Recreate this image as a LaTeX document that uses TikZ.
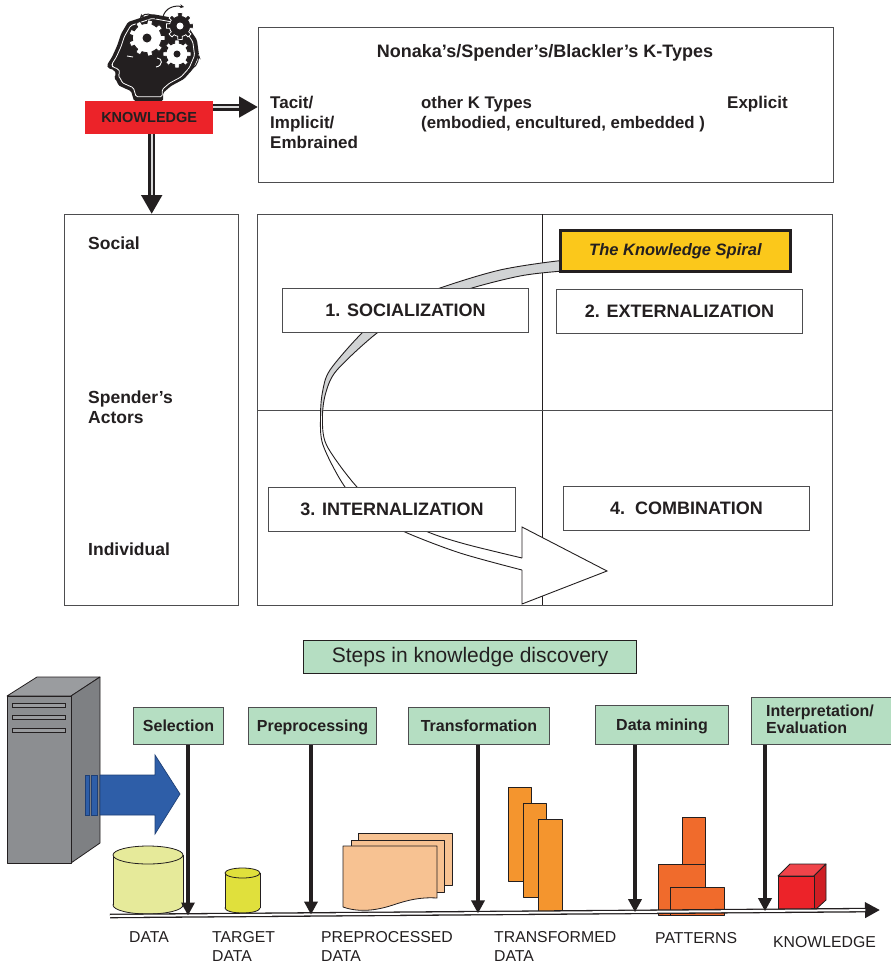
\documentclass[tikz,border=0pt]{standalone}
\usepackage{fontspec}
\setmainfont{Liberation Sans}
\usetikzlibrary{arrows.meta,calc}

\definecolor{ink}{HTML}{231F20}
\definecolor{rule}{HTML}{4D4D4F}
\definecolor{mint}{HTML}{B5DEC2}
\definecolor{kred}{HTML}{EC2329}
\definecolor{kyellow}{HTML}{FBC81B}
\definecolor{peach}{HTML}{F7C292}
\definecolor{amber}{HTML}{F4952E}
\definecolor{tangerine}{HTML}{F06B2C}
\definecolor{paleolive}{HTML}{E6EA9A}
\definecolor{lemon}{HTML}{E0E03C}
\definecolor{steel}{HTML}{2E5EA8}
\definecolor{steeldark}{HTML}{1E3F75}
\definecolor{slate}{HTML}{8C8E91}
\definecolor{slatetop}{HTML}{9A9C9F}
\definecolor{slateside}{HTML}{7E8083}
\definecolor{ribbon}{HTML}{D1D3D4}
\definecolor{cubetop}{HTML}{F0444A}
\definecolor{cubeside}{HTML}{CF1E24}

% profile of the thinking head
\newcommand\kheadpath{(128,22) -- (121,34) -- (117,46) -- (112,57) -- (107,65)
  -- (108,68) -- (114,70) -- (116,74) -- (114,78) -- (117,81) -- (118,85)
  -- (124,88) -- (131,91) -- (134,101) -- (163,101) -- (163,93) -- (171,86)
  -- (184,79) -- (193,69) -- (199,55) -- (197,40) -- (189,28) -- (174,18)
  -- (152,14) -- cycle}
% toothed wheel: #1 teeth, #2 outer radius, #3 root radius
\newcommand\kgear[3]{plot[domain=0:360, samples=181]
  (\x:{ifthenelse(cos(#1*\x)>0.1,#2,#3)}) -- cycle}
% the two edges of the spiral ribbon, split at its leftmost point
\newcommand\ribOuterTop{(590,259.5) (557,261) (500,270) (443,287) (395,306)
  (362,333) (330,370) (322.5,392) (320.5,416)}
\newcommand\ribOuterLow{(320.5,416) (323,445) (345,487) (372,513) (405,532)
  (460,553) (522,570)}
\newcommand\ribInnerTop{(322.5,416) (326,392) (337,370) (377,333) (420,306)
  (472,288) (520,276) (557,271.5) (590,270)}
\newcommand\ribInnerLow{(522,558) (465,544) (428,532) (388,512) (357,487)
  (326.5,445) (322.5,416)}

\tikzset{
  bf/.style={font=\fontsize{#1}{#1}\selectfont\bfseries, text=ink, inner sep=0pt},
  rg/.style={font=\fontsize{#1}{#1}\selectfont, text=ink, inner sep=0pt},
  panel/.style={draw=rule, line width=1pt, fill=white, inner sep=0pt},
  stepbox/.style={draw=rule, line width=1pt, fill=mint, inner sep=0pt,
    anchor=north west, bf=16, text height=11.5pt, text depth=0pt},
  phase/.style={panel, anchor=north west, bf=18, text height=12.9pt, text depth=0pt},
  fatarrow/.style={line width=7pt, draw=ink, -{Triangle[length=19pt,width=20pt]}},
  fatcore/.style={line width=2.4pt, draw=gray!30},
  droparrow/.style={line width=4pt, draw=ink, -{Triangle[length=13pt,width=13pt]}},
  solid3d/.style={draw=ink, line width=0.8pt, line join=round},
  swirl/.style={-{Stealth[length=4pt,width=4pt]}, line width=1pt, draw=ink},
  ribedge/.style={draw=ink, line width=0.9pt},
}

\begin{document}
\begin{tikzpicture}[x=1pt, y=-1pt]
\useasboundingbox (0,0) rectangle (891,964);
\fill[white] (0,0) rectangle (891,964);

% ---------- thinking head with gears ----------
\fill[ink, rounded corners=1.5pt] \kheadpath;
\draw[white, line width=0.8pt, rounded corners=1.5pt, shift={(15.5,5.8)}, scale=0.9] \kheadpath;
\draw[white, line width=0.9pt] (127,56) -- (133,57);
\draw[white, line width=0.9pt] (157,58) .. controls (163,58) and (163,66) .. (156,67);
\filldraw[fill=ink, draw=white, line width=0.8pt, shift={(180,26)}] \kgear{8}{13.5}{10.5};
\fill[white] (180,26) circle[radius=3.5];
\filldraw[fill=white, draw=ink, line width=0.8pt, shift={(147,38)}] \kgear{9}{18}{14.5};
\fill[ink] (147,38) circle[radius=4.5];
\filldraw[fill=white, draw=ink, line width=0.8pt, shift={(177,54)}] \kgear{8}{14}{11};
\fill[ink] (177,54) circle[radius=3.5];
\draw[swirl] (156,19) .. controls (152,13) and (145,13) .. (140,18);
\draw[swirl] (163,17) .. controls (165,8) and (174,5) .. (184,7);
\draw[swirl] (188,70) .. controls (195,69) and (198,63) .. (199,55);

% ---------- knowledge label and its two arrows ----------
\node[fill=kred, minimum width=128, minimum height=33, anchor=north west,
      bf=14.5] (kn) at (85,101) {KNOWLEDGE};

\node[panel, minimum width=575, minimum height=155, anchor=north west] (ktypes) at (258,27) {};
\node[bf=18, anchor=base] (kttitle) at (545,57) {Nonaka’s/Spender’s/Blackler’s K-Types};
\node[bf=17, anchor=base west] (tac1) at (270,108) {Tacit/};
\node[bf=17, anchor=base west] (tac2) at (270,128) {Implicit/};
\node[bf=17, anchor=base west] (tac3) at (270,148) {Embrained};
\node[bf=16.8, anchor=base west] (oth1) at (421,108) {other K Types};
\node[bf=16.8, anchor=base west] (oth2) at (421,128) {(embodied, encultured, embedded )};
\node[bf=17, anchor=base west] (expl) at (727,108) {Explicit};

\node[panel, minimum width=174, minimum height=391, anchor=north west] (actors) at (64,214) {};
\node[bf=17.5, anchor=base west] (social) at (88,249) {Social};
\node[bf=17.5, anchor=base west] (spend) at (88,403) {Spender’s};
\node[bf=17.5, anchor=base west] (actr) at (88,423) {Actors};
\node[bf=17.5, anchor=base west] (indiv) at (88,555) {Individual};

\coordinate (ra) at ($(kn.north east)+(0,6)$);
\coordinate (rb) at (ktypes.west |- ra);
\draw[fatarrow] (ra) -- (rb);
\draw[fatcore] (ra) -- ($(rb)+(-19,0)$);

\coordinate (da) at ($(kn.south)+(2.5,0)$);
\coordinate (db) at (da |- actors.north);
\draw[fatarrow] (da) -- (db);
\draw[fatcore] (da) -- ($(db)+(0,-19)$);

% ---------- SECI quadrants ----------
\node[panel, minimum width=575, minimum height=391, anchor=north west] (quad) at (257,214) {};
\draw[ink, line width=0.9pt] (542,214) -- (542,605);
\draw[rule, line width=1pt] (257,410) -- (832,410);

% the spiral ribbon: shaded upper half, white lower half ending in the arrow
\fill[ribbon]
  plot[smooth, tension=0.5] coordinates {\ribOuterTop}
  -- plot[smooth, tension=0.5] coordinates {\ribInnerTop} -- cycle;
\fill[white]
  plot[smooth, tension=0.5] coordinates {\ribOuterLow}
  -- (522,604) -- (607,571) -- (522,527)
  -- plot[smooth, tension=0.5] coordinates {\ribInnerLow} -- cycle;
\draw[ribedge] plot[smooth, tension=0.5] coordinates {(590,259.5) (557,261) (500,270)
  (443,287) (395,306) (362,333) (330,370) (322.5,392) (320.5,416) (323,445) (345,487)
  (372,513) (405,532) (460,553) (522,570)};
\draw[ribedge] plot[smooth, tension=0.5] coordinates {(590,270) (557,271.5) (520,276)
  (472,288) (420,306) (377,333) (337,370) (326,392) (322.5,416) (326.5,445) (357,487)
  (388,512) (428,532) (465,544) (522,558)};
\draw[ribedge, line join=miter] (522,570) -- (522,604) -- (607,571) -- (522,527) -- (522,558);

\node[phase, minimum width=246, minimum height=44] (soc) at (282,288) {1. SOCIALIZATION};
\node[phase, minimum width=246, minimum height=44] (ext) at (556,289) {2. EXTERNALIZATION};
\node[phase, minimum width=247, minimum height=44] (int) at (268,487) {3. INTERNALIZATION};
\node[phase, minimum width=246, minimum height=44] (com) at (563,486) {4.\ \ COMBINATION};
\node[draw=ink, line width=2.8pt, fill=kyellow, minimum width=230, minimum height=41,
      anchor=north west, inner sep=0pt, text=ink,
      font=\fontsize{16.5}{16.5}\selectfont\bfseries\itshape] (spiral) at (559,229)
      {The Knowledge Spiral};

% ---------- knowledge discovery process ----------
\node[draw=ink, line width=1.4pt, fill=mint, minimum width=333, minimum height=33,
      anchor=north west, rg=21] (steps) at (303,640) {Steps in knowledge discovery};

% server tower
\filldraw[solid3d, fill=slatetop] (7,696) -- (37,677) -- (100,677) -- (71,696) -- cycle;
\filldraw[solid3d, fill=slateside] (71,696) -- (100,677) -- (100,843) -- (71,863) -- cycle;
\filldraw[solid3d, fill=slate] (7,696) rectangle (71,863);
\foreach \yy in {703,715.5,728}
  \filldraw[draw=ink, line width=0.7pt, fill=slatetop] (12,\yy) rectangle (65,\yy+4);
\filldraw[draw=steeldark, line width=0.7pt, fill=steel] (85,775) rectangle (89,815);
\filldraw[draw=steeldark, line width=0.7pt, fill=steel] (91,775) rectangle (97,815);
\filldraw[draw=steeldark, line width=0.7pt, fill=steel, line join=miter]
  (100,775) -- (155,775) -- (155,755) -- (180,794) -- (155,834) -- (155,815) -- (100,815) -- cycle;

% data store
\filldraw[solid3d, fill=paleolive] (148,905) ellipse[x radius=35, y radius=9];
\fill[paleolive] (113,855) rectangle (183,905);
\draw[solid3d] (113,855) -- (113,905) (183,855) -- (183,905);
\filldraw[solid3d, fill=paleolive] (148,855) ellipse[x radius=35, y radius=9];

% target data store
\filldraw[solid3d, fill=lemon] (242.5,908) ellipse[x radius=17.5, y radius=5];
\fill[lemon] (225,873) rectangle (260,908);
\draw[solid3d] (225,873) -- (225,908) (260,873) -- (260,908);
\filldraw[solid3d, fill=lemon] (242.5,873) ellipse[x radius=17.5, y radius=5];

% preprocessed sheets
\filldraw[solid3d, fill=peach] (358,833) rectangle (452,885);
\filldraw[solid3d, fill=peach] (351,840) rectangle (444,892);
\filldraw[solid3d, fill=peach] (343,846) -- (437,846) -- (437,898)
  .. controls (420,897) and (408,900) .. (393,905)
  .. controls (378,910) and (360,913) .. (343,907) -- cycle;

% transformed bars
\filldraw[solid3d, fill=amber] (508,787) rectangle (531,881);
\filldraw[solid3d, fill=amber] (523,803) rectangle (546,897);
\filldraw[solid3d, fill=amber] (538,819) rectangle (562,912);

% patterns
\filldraw[solid3d, fill=tangerine] (682,817) rectangle (705,864);
\filldraw[solid3d, fill=tangerine] (658,864) rectangle (705,915);
\filldraw[solid3d, fill=tangerine] (670,887) rectangle (724,915);

% knowledge cube
\filldraw[solid3d, fill=cubetop] (778,876) -- (790,864) -- (826,864) -- (814,876) -- cycle;
\filldraw[solid3d, fill=cubeside] (814,876) -- (826,864) -- (826,900) -- (814,911) -- cycle;
\filldraw[solid3d, fill=kred] (778,876) rectangle (814,911);

% time line
\coordinate (tl0) at (110,916);
\coordinate (tl1) at (880,910);
\draw[line width=4.6pt, draw=ink, -{Triangle[length=15pt,width=15pt]}] (tl0) -- (tl1);
\draw[line width=2pt, white] (tl0) -- ($(tl0)!0.981!(tl1)$);

% step boxes and their arrows
\node[stepbox, minimum width=90, minimum height=37] (sel) at (133,707) {Selection};
\node[stepbox, minimum width=128, minimum height=37] (pre) at (248,707) {Preprocessing};
\node[stepbox, minimum width=141, minimum height=37] (trf) at (408,707) {Transformation};
\node[stepbox, minimum width=133, minimum height=39] (dmn) at (595,705) {Data mining};
\node[draw=rule, line width=1pt, fill=mint, minimum width=142, minimum height=47,
      anchor=north west, inner sep=0pt] (itp) at (751,697) {};
\node[bf=16, anchor=base west] (itp1) at (766,716) {Interpretation/};
\node[bf=16, anchor=base west] (itp2) at (766,733) {Evaluation};

\coordinate (t1) at (188,915.5);
\coordinate (t2) at (311,914.6);
\coordinate (t3) at (478,913.4);
\coordinate (t4) at (635,912.2);
\coordinate (t5) at (765,911.2);
\draw[droparrow] (sel.south -| t1) -- (t1);
\draw[droparrow] (pre.south -| t2) -- (t2);
\draw[droparrow] (trf.south -| t3) -- (t3);
\draw[droparrow] (dmn.south -| t4) -- (t4);
\draw[droparrow] (itp.south -| t5) -- (t5);

% captions under the time line
\node[rg=15.8, anchor=base west] (c1) at (129,942) {DATA};
\node[rg=15.8, anchor=base west] (c2a) at (212,942) {TARGET};
\node[rg=15.8, anchor=base west] (c2b) at (212,961) {DATA};
\node[rg=15.8, anchor=base west] (c3a) at (321,942) {PREPROCESSED};
\node[rg=15.8, anchor=base west] (c3b) at (321,961) {DATA};
\node[rg=15.8, anchor=base west] (c4a) at (494,942) {TRANSFORMED};
\node[rg=15.8, anchor=base west] (c4b) at (494,961) {DATA};
\node[rg=15.8, anchor=base west] (c5) at (655,943) {PATTERNS};
\node[rg=15.8, anchor=base west] (c6) at (773,947) {KNOWLEDGE};
\end{tikzpicture}
\end{document}
